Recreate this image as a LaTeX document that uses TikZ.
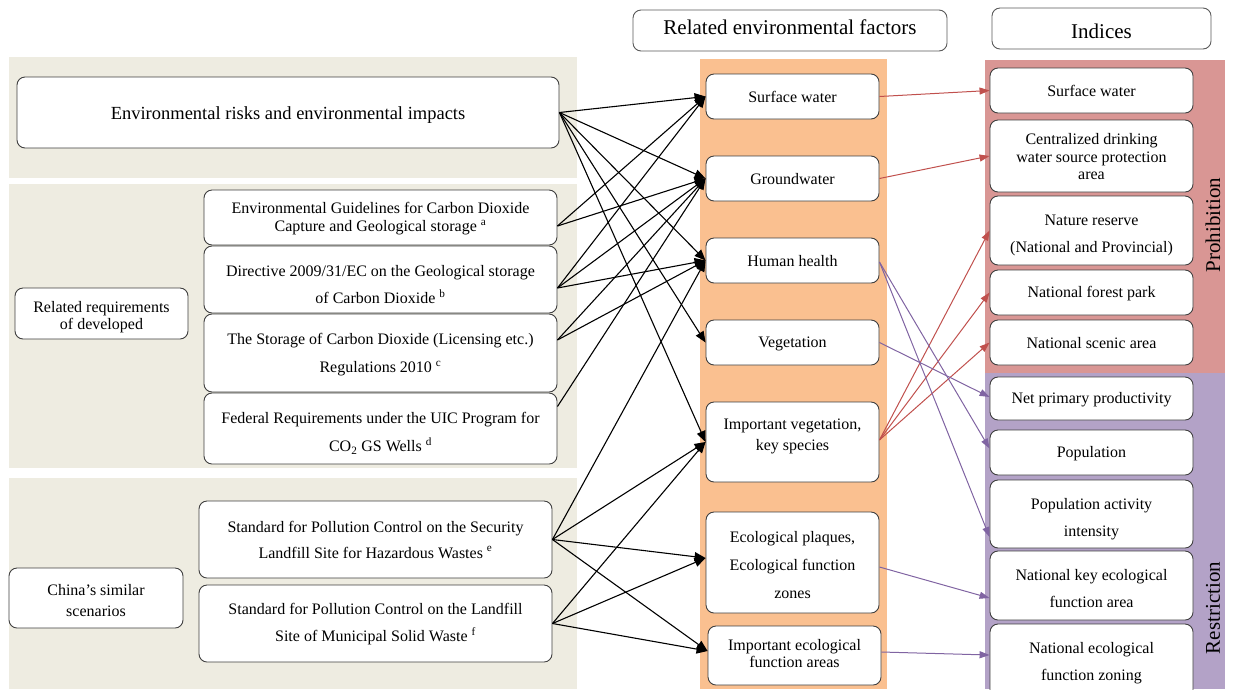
\documentclass[tikz,border=0pt]{standalone}
\usepackage{fontspec}
\setmainfont{Liberation Serif}
\usetikzlibrary{arrows.meta}
\definecolor{beige}{HTML}{EEECE1}
\definecolor{orangeband}{HTML}{FAC090}
\definecolor{prohib}{HTML}{D99694}
\definecolor{restrict}{HTML}{B3A2C7}
\definecolor{arrred}{HTML}{C0504D}
\definecolor{arrpur}{HTML}{8064A2}
\definecolor{boxline}{HTML}{3F3F3F}
\definecolor{hdrline}{HTML}{595959}
\newcommand{\myht}[1]{\rule{0pt}{#1}}
\newcommand{\mydp}[1]{\rule[-#1]{0pt}{0pt}}
\begin{document}
\begin{tikzpicture}[x=1pt,y=-1pt,
  box/.style={draw=boxline, fill=white, rounded corners=8pt, line width=0.9pt,
    inner sep=0pt, align=center, font=\fontsize{16}{19}\selectfont},
  hdr/.style={draw=hdrline, fill=white, rounded corners=8pt, line width=0.9pt,
    inner sep=0pt, align=center, font=\fontsize{21}{24}\selectfont},
  lbox/.style={box, minimum width=353pt},
  mbox/.style={box, minimum width=173pt},
  rbox/.style={box, minimum width=203pt},
  blk/.style={-{Triangle[length=11pt,width=9pt]}, line width=1.1pt, black},
  redarr/.style={-{Triangle[length=10pt,width=7pt]}, line width=1pt, arrred},
  purarr/.style={-{Triangle[length=10pt,width=7pt]}, line width=1pt, arrpur},
  bandlabel/.style={rotate=90, font=\fontsize{21}{24}\selectfont, inner sep=0pt}
]
\useasboundingbox (0,0) rectangle (1233,689);

% background bands
\fill[beige] (9,57) rectangle (577,178);
\fill[beige] (9,184) rectangle (577,468);
\fill[beige] (9,478) rectangle (577,689);
\fill[orangeband] (700,59) rectangle (887,689);
\fill[prohib] (985,60) rectangle (1225,373);
\fill[restrict] (985,373) rectangle (1225,689);

% headers
\node[hdr, minimum width=314pt, minimum height=41pt] (hREF) at (790,30.5) {Related environmental factors\mydp{7pt}};
\node[hdr, minimum width=219pt, minimum height=41pt] (hIDX) at (1101.5,28.5) {\myht{21pt}Indices};

% left boxes
\node[box, minimum width=542pt, minimum height=71pt, font=\fontsize{18.5}{22}\selectfont] (E) at (288,112.5) {\myht{18.5pt}Environmental risks and environmental impacts};
\node[lbox, minimum height=55pt, font=\fontsize{16}{18}\selectfont] (G1) at (380.5,217.5) {\myht{13pt}Environmental Guidelines for Carbon Dioxide\\Capture and Geological storage \textsuperscript{a}};
\node[lbox, minimum height=67pt, font=\fontsize{16}{27}\selectfont] (G2) at (380.5,279.5) {\myht{21pt}Directive 2009/31/EC on the Geological storage\\of Carbon Dioxide \textsuperscript{b}};
\node[lbox, minimum height=78pt, font=\fontsize{16}{28}\selectfont] (G3) at (380.5,353) {\myht{15pt}The Storage of Carbon Dioxide (Licensing etc.)\\Regulations 2010 \textsuperscript{c}};
\node[lbox, minimum height=71pt, font=\fontsize{16}{28}\selectfont] (G4) at (380.5,428.5) {\myht{21pt}Federal Requirements under the UIC Program for\\CO\textsubscript{2} GS Wells \textsuperscript{d}};
\node[box, minimum width=173pt, minimum height=51pt, font=\fontsize{16}{17}\selectfont] (RR) at (101.5,313.5) {\myht{19pt}Related requirements\\of developed};
\node[box, minimum width=174pt, minimum height=60pt, font=\fontsize{16}{21}\selectfont] (CS) at (96,598) {\myht{17pt}China’s similar\\scenarios};
\node[lbox, minimum height=77pt, font=\fontsize{16}{26}\selectfont] (S1) at (375.5,539.5) {Standard for Pollution Control on the Security\\Landfill Site for Hazardous Wastes \textsuperscript{e}};
\node[lbox, minimum height=77pt, font=\fontsize{16}{27}\selectfont] (S2) at (375.5,623.5) {\myht{13pt}Standard for Pollution Control on the Landfill\\Site of Municipal Solid Waste \textsuperscript{f}};

% middle boxes
\node[mbox, minimum height=45pt] (SW) at (792.5,96.5) {\myht{13pt}Surface water};
\node[mbox, minimum height=45pt] (GW) at (792.5,178.5) {\myht{13pt}Groundwater};
\node[mbox, minimum height=45pt] (HH) at (792.5,260.5) {\myht{13pt}Human health};
\node[mbox, minimum height=45pt] (V) at (792.5,342.5) {\myht{13pt}Vegetation};
\node[mbox, minimum height=80pt, font=\fontsize{16}{21}\selectfont] (IV) at (792.5,442) {Important vegetation,\\key species\mydp{15pt}};
\node[mbox, minimum height=101pt, font=\fontsize{16}{28}\selectfont] (EP) at (792.5,562.5) {\myht{17pt}Ecological plaques,\\Ecological function\\zones};
\node[mbox, minimum height=59pt, font=\fontsize{16}{17}\selectfont] (IEFA) at (794.5,655.5) {Important ecological\\function areas\mydp{5pt}};

% right boxes
\node[rbox, minimum height=45pt] (iSW) at (1091.5,90.5) {\myht{13pt}Surface water};
\node[rbox, minimum height=72pt, font=\fontsize{16}{17.5}\selectfont] (iCD) at (1091.5,156) {\myht{13pt}Centralized drinking\\water source protection\\area};
\node[rbox, minimum height=69pt, font=\fontsize{16}{27}\selectfont] (iNR) at (1091.5,230.5) {\myht{21pt}Nature reserve\\(National and Provincial)};
\node[rbox, minimum height=45pt] (iNFP) at (1091.5,292.5) {\myht{14pt}National forest park};
\node[rbox, minimum height=45pt] (iNSA) at (1091.5,342.5) {\myht{13pt}National scenic area};
\node[rbox, minimum height=43pt] (iNPP) at (1091.5,398.5) {\myht{13pt}Net primary productivity};
\node[rbox, minimum height=45pt] (iPOP) at (1091.5,452.5) {\myht{14pt}Population};
\node[rbox, minimum height=68pt, font=\fontsize{16}{27}\selectfont] (iPAI) at (1091.5,514) {\myht{21pt}Population activity\\intensity};
\node[rbox, minimum height=69pt, font=\fontsize{16}{27}\selectfont] (iNKEFA) at (1091.5,585.5) {\myht{17pt}National key ecological\\function area};
\node[rbox, minimum height=75pt, font=\fontsize{16}{27}\selectfont] (iNEFZ) at (1091.5,661.5) {\myht{15pt}National ecological\\function zoning};

% band labels
\node[bandlabel] (lPro) at (1213,225) {Prohibition};
\node[bandlabel] (lRes) at (1213,608) {Restriction};

% black connectors
\foreach \t in {SW,GW,HH,V,IV} \draw[blk] (E.east) -- (\t.west);
\foreach \t in {SW,GW} \draw[blk] ([yshift=-8.5pt]G1.east) -- (\t.west);
\foreach \t in {SW,GW,HH} \draw[blk] ([yshift=-8.5pt]G2.east) -- (\t.west);
\foreach \t in {GW,HH} \draw[blk] ([yshift=13pt]G3.east) -- (\t.west);
\draw[blk] ([yshift=22pt]G4.east) -- (GW.west);
\draw[blk] (S1.east) -- (HH.west);
\draw[blk] (S1.east) -- (IV.west);
\draw[blk] (S1.east) -- ([yshift=4.5pt]EP.west);
\draw[blk] (S1.east) -- ([yshift=4.5pt]IEFA.west);
\draw[blk] (S2.east) -- (IV.west);
\draw[blk] (S2.east) -- ([yshift=4.5pt]EP.west);
\draw[blk] (S2.east) -- ([yshift=4.5pt]IEFA.west);

% red connectors
\draw[redarr] (SW.east) -- (iSW.west);
\draw[redarr] (GW.east) -- (iCD.west);
\foreach \t in {iNR,iNFP,iNSA} \draw[redarr] ([yshift=2pt]IV.east) -- (\t.west);

% purple connectors
\draw[purarr] (V.east) -- ([yshift=1.5pt]iNPP.west);
\draw[purarr] ([yshift=-1.5pt]HH.east) -- ([yshift=4pt]iPOP.west);
\draw[purarr] ([yshift=-1.5pt]HH.east) -- ([yshift=-23pt]iPAI.west);
\draw[purarr] ([yshift=-4.5pt]EP.east) -- ([yshift=-12.5pt]iNKEFA.west);
\draw[purarr] ([yshift=3.5pt]IEFA.east) -- ([yshift=6.5pt]iNEFZ.west);
\end{tikzpicture}
\end{document}
